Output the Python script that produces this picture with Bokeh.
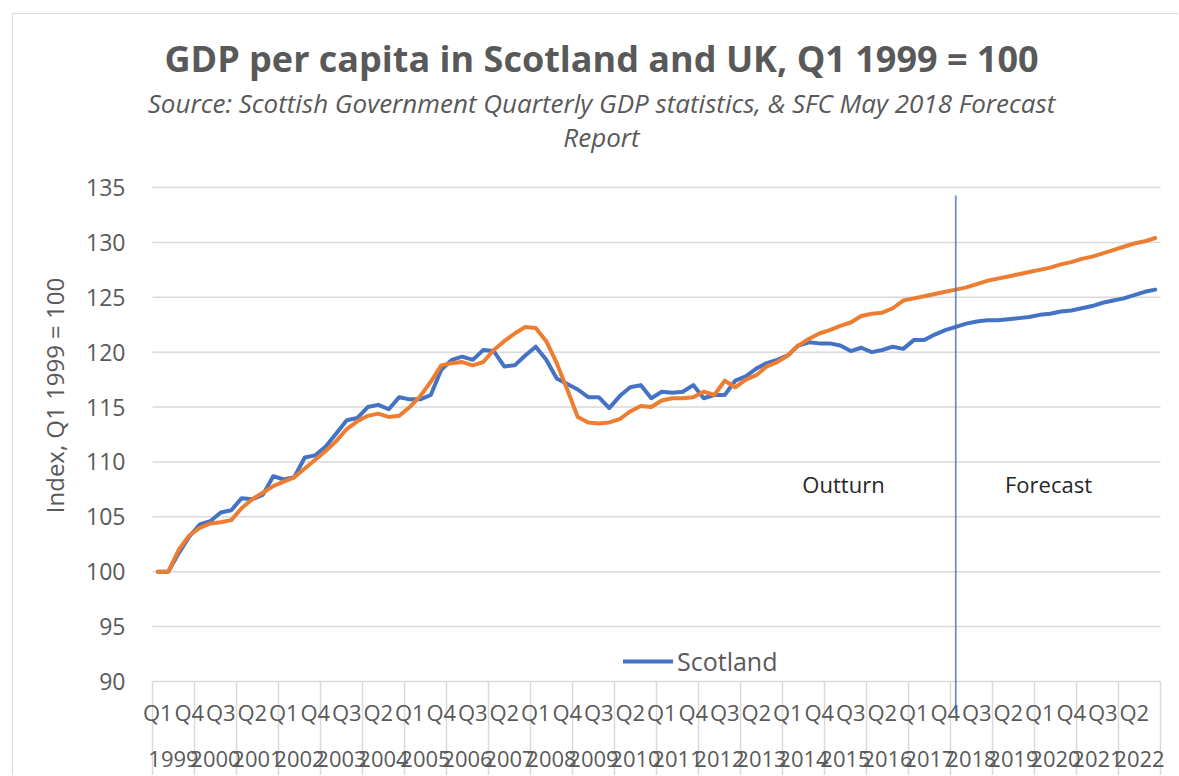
from bokeh.plotting import figure
from bokeh.models import Range1d, FixedTicker, Legend, LegendItem, ColumnDataSource
from bokeh.core.properties import value
from bokeh.embed import file_html
from bokeh.resources import INLINE

# ---------------- data ----------------
years = [str(y) for y in range(1999, 2023)]
quarter_names = ["Q1", "Q2", "Q3", "Q4"]
periods = [f"{y} {q}" for y in years for q in quarter_names]

scotland = [
    100.0, 100.0, 101.7, 103.2, 104.3, 104.6, 105.4, 105.6,   # 1999-2000
    106.7, 106.6, 107.0, 108.7, 108.4, 108.6, 110.4, 110.6,   # 2001-2002
    111.4, 112.6, 113.8, 114.0, 115.0, 115.2, 114.8, 115.9,   # 2003-2004
    115.7, 115.7, 116.1, 118.4, 119.3, 119.6, 119.3, 120.2,   # 2005-2006
    120.1, 118.7, 118.8, 119.7, 120.5, 119.3, 117.6, 117.1,   # 2007-2008
    116.6, 115.9, 115.9, 114.9, 116.0, 116.8, 117.0, 115.8,   # 2009-2010
    116.4, 116.3, 116.4, 117.0, 115.8, 116.1, 116.1, 117.4,   # 2011-2012
    117.8, 118.5, 119.0, 119.3, 119.7, 120.6, 120.9, 120.8,   # 2013-2014
    120.8, 120.6, 120.1, 120.4, 120.0, 120.2, 120.5, 120.3,   # 2015-2016
    121.1, 121.1, 121.6, 122.0, 122.3, 122.6, 122.8, 122.9,   # 2017-2018
    122.9, 123.0, 123.1, 123.2, 123.4, 123.5, 123.7, 123.8,   # 2019-2020
    124.0, 124.2, 124.5, 124.7, 124.9, 125.2, 125.5, 125.7,   # 2021-2022
]
uk = [
    100.0, 100.0, 102.0, 103.3, 104.0, 104.4, 104.5, 104.7,
    105.8, 106.6, 107.2, 107.8, 108.2, 108.6, 109.4, 110.2,
    111.0, 111.9, 113.0, 113.7, 114.2, 114.4, 114.1, 114.2,
    115.0, 116.0, 117.3, 118.8, 119.0, 119.1, 118.8, 119.1,
    120.2, 121.0, 121.7, 122.3, 122.2, 121.0, 119.0, 116.6,
    114.1, 113.6, 113.5, 113.6, 113.9, 114.6, 115.1, 115.0,
    115.6, 115.8, 115.8, 115.9, 116.4, 116.1, 117.4, 116.8,
    117.5, 117.9, 118.7, 119.1, 119.7, 120.6, 121.2, 121.7,
    122.0, 122.4, 122.7, 123.3, 123.5, 123.6, 124.0, 124.7,
    124.9, 125.1, 125.3, 125.5, 125.7, 125.9, 126.2, 126.5,
    126.7, 126.9, 127.1, 127.3, 127.5, 127.7, 128.0, 128.2,
    128.5, 128.7, 129.0, 129.3, 129.6, 129.9, 130.1, 130.4,
]
y_ticks = [90, 95, 100, 105, 110, 115, 120, 125, 130, 135]
forecast_start = "2018 Q1"
quarter_label_step = 3

title_text = "GDP per capita in Scotland and UK, Q1 1999 = 100"
subtitle_lines = ["Source: Scottish Government Quarterly GDP statistics, & SFC May 2018 Forecast",
                  "Report"]
y_label = "Index, Q1 1999 = 100"
region_labels = ["Outturn", "Forecast"]
series_names = ["Scotland", "UK"]

# ---------------- layout (page pixels) ----------------
PAGE_W, PAGE_H = 1179, 776
OX, OY = 12, 13                     # chart-area border position
BW = 1                              # border width
CX, CY = OX + BW, OY + BW           # canvas origin on the page
PLOT_L, PLOT_R, PLOT_T, PLOT_B = 152, 1160, 187, 681
FRAME_L = 135
TXT = "#595959"
GRID = "#d9d9d9"
FONT = value("Open Sans")
BASE_SHIFT = 0.38                   # alphabetic-baseline correction (em)

n = len(periods)
ymin, ymax = y_ticks[0], y_ticks[-1]
x_per_px = n / (PLOT_R - PLOT_L)
y_per_px = (ymax - ymin) / (PLOT_B - PLOT_T)


def X(px):
    return -0.5 + (px - PLOT_L) * x_per_px


def Y(py):
    return ymax - (py - PLOT_T) * y_per_px


def YT(py, size):
    """baseline position for a text of the given font size"""
    return Y(py - BASE_SHIFT * size)


p = figure(width=PAGE_W - CX, height=PAGE_H - CY, margin=(OY, 0, 0, OX),
           output_backend="svg", toolbar_location=None,
           x_range=Range1d(X(FRAME_L), X(PAGE_W)), y_range=Range1d(Y(PAGE_H), Y(CY)),
           min_border_left=FRAME_L - CX, min_border_right=0, min_border_top=0,
           min_border_bottom=0, x_axis_location=None)
p.styles = {"border-top": f"{BW}px solid #d9d9d9", "border-left": f"{BW}px solid #d9d9d9"}
p.outline_line_color = None
p.background_fill_color = "white"
p.border_fill_color = "white"
p.xgrid.visible = False
p.ygrid.visible = False

# y axis
ax = p.yaxis[0]
ax.ticker = FixedTicker(ticks=y_ticks)
ax.axis_line_color = None
ax.major_tick_line_color = None
ax.minor_tick_line_color = None
ax.major_tick_out = 0
ax.major_tick_in = 0
ax.major_label_standoff = 10
ax.major_label_text_font = "Open Sans"
ax.major_label_text_font_size = "23px"
ax.major_label_text_color = TXT
ax.axis_label = y_label
ax.axis_label_text_font = "Open Sans"
ax.axis_label_text_font_size = "24px"
ax.axis_label_text_font_style = "normal"
ax.axis_label_text_color = TXT
ax.axis_label_standoff = 12

xs = list(range(n))
x_lo, x_hi = -0.5, n - 0.5

# horizontal gridlines (incl. category axis line at 90)
p.segment(x0=[x_lo] * len(y_ticks), x1=[x_hi] * len(y_ticks), y0=y_ticks, y1=y_ticks,
          line_color=GRID, line_width=1.5)

# category separators (year boundaries) below the axis
bounds = [4 * k - 0.5 for k in range(len(years) + 1)]
p.segment(x0=bounds, x1=bounds, y0=[ymin] * len(bounds), y1=[Y(PAGE_H)] * len(bounds),
          line_color=GRID, line_width=1.5)

# quarter labels (every 3rd quarter) and year labels
XL = 22
q_idx = list(range(0, n, quarter_label_step))
p.text(x=q_idx, y=[YT(720, XL)] * len(q_idx), text=[periods[i].split()[1] for i in q_idx],
       text_font=FONT, text_font_size=f"{XL}px", text_color=TXT,
       text_align="center", text_baseline="alphabetic")
y_centers = [4 * k + 1.5 for k in range(len(years))]
p.text(x=y_centers, y=[YT(767, XL)] * len(years), text=years,
       text_font=FONT, text_font_size=f"{XL}px", text_color=TXT,
       text_align="center", text_baseline="alphabetic")

# series
src = ColumnDataSource(dict(x=xs, scotland=scotland, uk=uk))
r_scot = p.line("x", "scotland", source=src, line_color="#4472C4", line_width=4,
                line_join="round", line_cap="round")
r_uk = p.line("x", "uk", source=src, line_color="#ED7D31", line_width=4,
              line_join="round", line_cap="round")

# forecast divider
fx = periods.index(forecast_start)
p.segment(x0=[fx], x1=[fx], y0=[Y(195)], y1=[Y(713)], line_color="#4472C4",
          line_alpha=0.8, line_width=1.75)

# region labels
p.text(x=[X(843), X(1048)], y=[YT(492, 22)] * 2, text=region_labels,
       text_font=FONT, text_font_size="22px", text_color="#262626",
       text_align="center", text_baseline="alphabetic")

# titles
p.text(x=[X(601)], y=[YT(72, 36)], text=[title_text], text_font=FONT,
       text_font_size="36px", text_font_style="bold", text_color=TXT,
       text_align="center", text_baseline="alphabetic")
p.text(x=[X(601)] * 2, y=[YT(112, 26), YT(146, 26)], text=subtitle_lines, text_font=FONT,
       text_font_size="26px", text_font_style="italic", text_color=TXT,
       text_align="center", text_baseline="alphabetic")

# legend (only Scotland shown, as in the original)
legend = Legend(items=[LegendItem(label=series_names[0], renderers=[r_scot])],
                location=(623 - FRAME_L, PAGE_H - 678),
                border_line_color=None, background_fill_alpha=0, padding=0, margin=0,
                spacing=0, glyph_width=50, glyph_height=20, label_standoff=4,
                label_text_font="Open Sans", label_text_font_size="25px",
                label_text_color=TXT)
p.add_layout(legend)

open("out.html", "w").write(file_html(p, INLINE))
